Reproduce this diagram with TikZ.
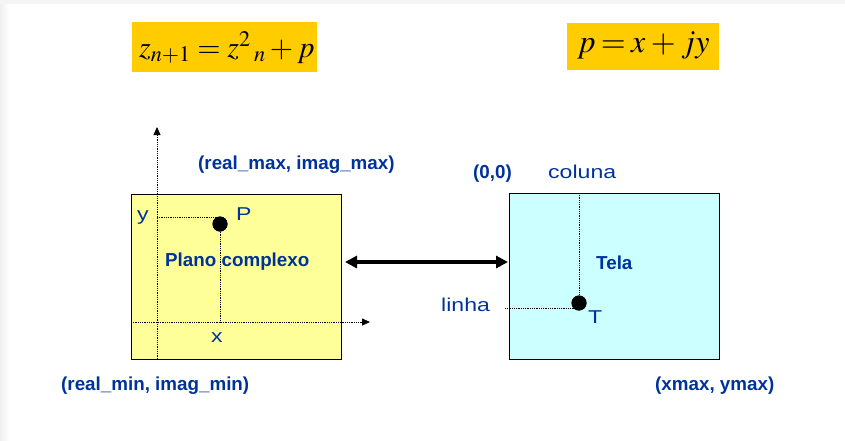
\documentclass[tikz,border=0pt]{standalone}
\usepackage{mathptmx}
\usepackage[no-math]{fontspec}
\setmainfont{Liberation Sans}
\newfontfamily\widesans[FakeStretch=1.24]{Liberation Sans}
\usetikzlibrary{arrows.meta,shadows}
\definecolor{labelblue}{HTML}{003399}
\definecolor{formulabg}{HTML}{FFCC00}
\definecolor{planefill}{HTML}{FFFF99}
\definecolor{screenfill}{HTML}{CCFFFF}
\begin{document}
\begin{tikzpicture}[x=1pt,y=-1pt,
  lbl/.style={text=labelblue, font=\fontsize{18.8}{20}\selectfont\bfseries, inner sep=0pt, anchor=base west},
  plain/.style={text=labelblue, font=\fontsize{18.6}{20}\selectfont\widesans, inner sep=0pt, anchor=base west},
  eqbox/.style={fill=formulabg, inner sep=0pt, anchor=north west},
  eqtext/.style={inner sep=0pt, anchor=base west},
  panel/.style={draw=black, line width=0.9pt, inner sep=0pt, anchor=north west,
    drop shadow={shadow xshift=1pt, shadow yshift=-1pt, fill=gray!70, opacity=1}},
  axis/.style={densely dotted, line width=0.8pt, -{Triangle[length=8pt,width=7pt]}},
  guide/.style={densely dotted, line width=0.8pt},
  dot/.style={circle, fill=black, minimum size=15pt, inner sep=0pt},
  bigarrow/.style={line width=3.5pt, {Triangle[length=12pt,width=12pt]}-{Triangle[length=12pt,width=12pt]}}
]
\useasboundingbox (0,0) rectangle (845,440);
% page edge tint
\fill[left color=gray!12, right color=white] (0,0) rectangle (9,440);
\fill[gray!9] (0,0) rectangle (845,4);

% formulas
\node[eqbox, minimum width=185pt, minimum height=50pt] (eq1box) at (132,22) {};
\node[eqtext, font=\fontsize{30}{32}\selectfont] (eq1) at (139,57)
  {$z_{n+1} = z^{2}\mkern2mu{}_{n} + p$};
\node[eqbox, minimum width=152pt, minimum height=47pt] (eq2box) at (567,23) {};
\node[eqtext, font=\fontsize{32}{34}\selectfont] (eq2) at (577,52)
  {\thickmuskip=3mu\medmuskip=3mu$p = x + jy$};

% complex plane
\node[panel, fill=planefill, minimum width=210pt, minimum height=165pt] (plane) at (131,194) {};
\coordinate (ybot) at (157,359);
\coordinate (ytop) at (157,127);
\coordinate (xleft) at (131,322);
\coordinate (xright) at (370,322);
\draw[axis] (ybot) -- (ytop);
\draw[axis] (xleft) -- (xright);
\node[dot] (P) at (220,224) {};
\coordinate (yP) at (157,217);
\draw[guide] (yP) -- (yP -| P);
\draw[guide] (P) -- (P |- xleft);
\node[dot] at (P) {};
\node[plain] (ylab) at (137,220) {y};
\node[plain] (Plab) at (236,220) {P};
\node[plain] (xlab) at (211,342) {x};
\node[lbl] (planelab) at (165,266) {Plano complexo};
\node[lbl] (maxlab) at (198,169) {(real\_max, imag\_max)};
\node[lbl] (minlab) at (61,390) {(real\_min, imag\_min)};

% screen
\node[panel, fill=screenfill, minimum width=210pt, minimum height=166pt] (screen) at (509,193) {};
\node[dot] (T) at (579,303) {};
\coordinate (rowstart) at (505,308);
\draw[guide] (T |- screen.north) -- (T);
\draw[guide] (rowstart) -- (rowstart -| T);
\node[dot] at (T) {};
\node[lbl] (origin) at (473,178) {(0,0)};
\node[plain] (collab) at (548,178) {coluna};
\node[lbl] (telalab) at (596,269) {Tela};
\node[plain] (rowlab) at (441,311) {linha};
\node[plain] (Tlab) at (588,323) {T};
\node[lbl] (xymax) at (655,390) {(xmax, ymax)};

% mapping between the two
\coordinate (al) at (345,262);
\coordinate (ar) at (508,262);
\draw[bigarrow] (al) -- (ar);
\end{tikzpicture}
\end{document}
